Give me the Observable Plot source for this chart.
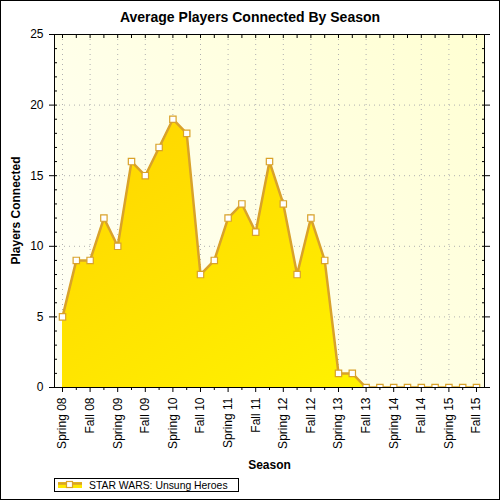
<!DOCTYPE html>
<html>
<head>
<meta charset="utf-8">
<script src="https://cdn.jsdelivr.net/npm/d3@7"></script>
<script src="https://cdn.jsdelivr.net/npm/@observablehq/plot@0.6"></script>
<style>
  html, body { margin: 0; padding: 0; background: #fff; }
  #wrap { position: relative; width: 500px; height: 500px; overflow: hidden; background: #fff; }
  #wrap > svg { position: absolute; left: 0; top: 0; }
  #overlay { pointer-events: none; }
</style>
</head>
<body>
<div id="wrap"></div>
<script>
// ---- data ----
const seasons = [
  "Spring 08","Summer 08","Fall 08","Winter 08",
  "Spring 09","Summer 09","Fall 09","Winter 09",
  "Spring 10","Summer 10","Fall 10","Winter 10",
  "Spring 11","Summer 11","Fall 11","Winter 11",
  "Spring 12","Summer 12","Fall 12","Winter 12",
  "Spring 13","Summer 13","Fall 13","Winter 13",
  "Spring 14","Summer 14","Fall 14","Winter 14",
  "Spring 15","Summer 15","Fall 15"
];
const players = [5,9,9,12,10,16,15,17,19,18,8,9,12,13,11,16,13,8,12,9,1,1,0,0,0,0,0,0,0,0,0];
const yMajorTicks = [0,5,10,15,20,25];
const yMinorTicks = d3.range(0, 26);
const seriesName = "STAR WARS: Unsung Heroes";
const titleText = "Average Players Connected By Season";
const xLabel = "Season";
const yLabel = "Players Connected";

const data = seasons.map((s, i) => ({i, season: s, players: players[i]}));
const xAll = data.map(d => d.i);
const xMajor = xAll.filter(i => i % 2 === 0);
const xMinor = xAll.filter(i => i % 2 === 1);

const FONT = "'Liberation Sans', Arial, sans-serif";
const lineColor = "#D9A22A";

const defs = () => {
  const d = d3.create("svg:defs");
  const a = d.append("linearGradient").attr("id", "areaGrad")
    .attr("x1", 0).attr("y1", 0).attr("x2", 1).attr("y2", 1);
  a.append("stop").attr("offset", "0%").attr("stop-color", "#FFD400");
  a.append("stop").attr("offset", "100%").attr("stop-color", "#FFF700");
  const b = d.append("linearGradient").attr("id", "bgGrad")
    .attr("x1", 0).attr("y1", 0.7).attr("x2", 1).attr("y2", 0);
  b.append("stop").attr("offset", "0%").attr("stop-color", "#FFFFF4");
  b.append("stop").attr("offset", "100%").attr("stop-color", "#FFFFD2");
  return d.node();
};

const pad = 0.58;
const chart = Plot.plot({
  width: 500,
  height: 500,
  marginLeft: 54,
  marginRight: 16,
  marginTop: 34,
  marginBottom: 113,
  style: {fontFamily: FONT, fontSize: "12px", color: "#000", background: "transparent"},
  x: {type: "linear", domain: [-pad, seasons.length - 1 + pad]},
  y: {domain: [0, 25]},
  marks: [
    defs,
    Plot.frame({fill: "url(#bgGrad)", stroke: null}),
    Plot.gridY(yMajorTicks.filter(v => v > 0 && v < 25), {stroke: "#b0b0b0", strokeOpacity: 1, strokeDasharray: "1,4"}),
    Plot.gridX(xMajor, {stroke: "#b0b0b0", strokeOpacity: 1, strokeDasharray: "1,4"}),
    Plot.areaY(data, {x: "i", y: "players", fill: "url(#areaGrad)"}),
    Plot.lineY(data, {x: "i", y: "players", stroke: lineColor, strokeWidth: 2.5, clip: true}),
    Plot.dot(data, {x: "i", y: "players", symbol: "square", r: 3.6, fill: "white", stroke: lineColor, strokeWidth: 1.2, clip: true}),
    // left axis
    Plot.axisY({anchor: "left", ticks: yMajorTicks, tickSize: 5, tickPadding: 6, fontSize: 12, label: null, tickFormat: d => d}),
    Plot.axisY({anchor: "left", ticks: yMinorTicks, tickSize: 3, text: null, label: null, dx: 3}),
    // right axis
    Plot.axisY({anchor: "right", ticks: yMajorTicks, tickSize: 5, text: null, label: null}),
    Plot.axisY({anchor: "right", ticks: yMinorTicks, tickSize: 3, text: null, label: null, dx: -3}),
    // bottom axis
    Plot.axisX({anchor: "bottom", ticks: xMajor, tickSize: 5, tickPadding: 5, tickRotate: -90, fontSize: 12, label: null, tickFormat: i => seasons[i]}),
    Plot.axisX({anchor: "bottom", ticks: xMinor, tickSize: 3, text: null, label: null}),
    // top axis
    Plot.axisX({anchor: "top", ticks: xAll, tickSize: 3, text: null, label: null, dy: 3}),
    Plot.frame({stroke: "#000", strokeWidth: 1})
  ]
});
document.getElementById("wrap").appendChild(chart);

// ---- overlay: title, axis labels, legend, outer border ----
const ov = d3.create("svg").attr("id", "overlay")
  .attr("width", 500).attr("height", 500)
  .attr("font-family", FONT);
ov.append("rect").attr("x", 0.5).attr("y", 0.5).attr("width", 499).attr("height", 499)
  .attr("fill", "none").attr("stroke", "#000");
ov.append("text").attr("x", 250).attr("y", 22).attr("text-anchor", "middle")
  .attr("font-size", 14).attr("font-weight", "bold").text(titleText);
ov.append("text").attr("transform", "translate(20,210.5) rotate(-90)").attr("text-anchor", "middle")
  .attr("font-size", 12).attr("font-weight", "bold").text(yLabel);
ov.append("text").attr("x", 269.5).attr("y", 469).attr("text-anchor", "middle")
  .attr("font-size", 12).attr("font-weight", "bold").text(xLabel);
const lg = ov.append("g");
lg.append("rect").attr("x", 54.5).attr("y", 478.5).attr("width", 184).attr("height", 13)
  .attr("fill", "#fff").attr("stroke", "#000");
lg.append("rect").attr("x", 58).attr("y", 482).attr("width", 24).attr("height", 6).attr("fill", "#FFE800");
lg.append("line").attr("x1", 58).attr("x2", 82).attr("y1", 483.5).attr("y2", 483.5)
  .attr("stroke", lineColor).attr("stroke-width", 2.5);
lg.append("rect").attr("x", 66.5).attr("y", 481.5).attr("width", 6).attr("height", 6)
  .attr("fill", "#fff").attr("stroke", lineColor).attr("stroke-width", 1.2);
lg.append("text").attr("x", 89).attr("y", 488.5).attr("font-size", 10.4).text(seriesName);
document.getElementById("wrap").appendChild(ov.node());
</script>
</body>
</html>
